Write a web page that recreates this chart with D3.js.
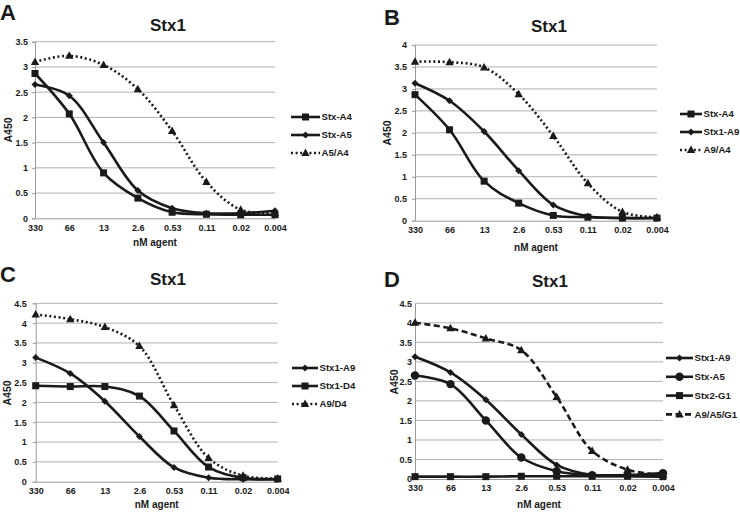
<!DOCTYPE html>
<html><head><meta charset="utf-8">
<script src="https://cdn.jsdelivr.net/npm/d3@7"></script>
<style>
body{margin:0;background:#fff;}
text{font-family:"Liberation Sans",Arial,sans-serif;font-weight:bold;fill:#1a1a1a;}
</style></head>
<body><svg id="c" width="740" height="512"></svg>
<script>
// ---- data ----
const categories = ["330","66","13","2.6","0.53","0.11","0.02","0.004"];

const aNames = ["Stx-A4","Stx-A5","A5/A4"];
const aStxA4 = [2.87,2.07,0.90,0.40,0.12,0.08,0.07,0.07];
const aStxA5 = [2.65,2.43,1.50,0.55,0.20,0.10,0.10,0.15];
const aA5A4  = [3.10,3.22,3.04,2.56,1.73,0.72,0.17,0.10];
const aTicks = [0,0.5,1,1.5,2,2.5,3,3.5];

const bNames = ["Stx-A4","Stx1-A9","A9/A4"];
const bStxA4  = [2.87,2.07,0.90,0.40,0.12,0.08,0.06,0.06];
const bStx1A9 = [3.13,2.73,2.03,1.14,0.36,0.10,0.06,0.06];
const bA9A4   = [3.62,3.61,3.49,2.88,1.93,0.85,0.20,0.08];
const bTicks = [0,0.5,1,1.5,2,2.5,3,3.5,4];

const cNames = ["Stx1-A9","Stx1-D4","A9/D4"];
const cStx1A9 = [3.13,2.73,2.03,1.14,0.36,0.10,0.06,0.06];
const cStx1D4 = [2.42,2.40,2.40,2.16,1.28,0.37,0.10,0.07];
const cA9D4   = [4.22,4.10,3.90,3.42,1.93,0.60,0.15,0.08];
const cTicks = [0,0.5,1,1.5,2,2.5,3,3.5,4,4.5];

const dNames = ["Stx1-A9","Stx-A5","Stx2-G1","A9/A5/G1"];
const dStx1A9 = [3.13,2.73,2.03,1.14,0.36,0.10,0.08,0.08];
const dStxA5  = [2.65,2.43,1.50,0.55,0.20,0.10,0.10,0.15];
const dStx2G1 = [0.06,0.06,0.06,0.07,0.07,0.07,0.07,0.06];
const dA9A5G1 = [4.00,3.86,3.60,3.30,2.10,0.72,0.24,0.10];
const dTicks = [0,0.5,1,1.5,2,2.5,3,3.5,4,4.5];

// ---- layout ----
const panels = [
  {letter:"A", lx:0, ly:20, x0:35, x1:275, y0:218.3, ytop:41.7, ymax:3.5, ticks:aTicks, tsz:3, tpad:4,
   tx:168, ty:31, ylx:8.5, yly:130, xly:246, legX:291, legLen:29, legY:117, legDy:18,
   series:[{name:aNames[0],v:aStxA4,m:"square",s:"solid"},{name:aNames[1],v:aStxA5,m:"diamond",s:"solid"},{name:aNames[2],v:aA5A4,m:"triangle",s:"dot"}]},
  {letter:"B", lx:384, ly:25, x0:415, x1:657, y0:220.7, ytop:45, ymax:4, ticks:bTicks, tsz:3, tpad:5,
   tx:549, ty:32, ylx:387, yly:133, xly:251, legX:680, legLen:22, legY:114, legDy:18,
   series:[{name:bNames[0],v:bStxA4,m:"square",s:"solid"},{name:bNames[1],v:bStx1A9,m:"diamond",s:"solid"},{name:bNames[2],v:bA9A4,m:"triangle",s:"dot"}]},
  {letter:"C", lx:0, ly:282, x0:35.7, x1:277.7, y0:481.7, ytop:303.3, ymax:4.5, ticks:cTicks, tsz:3, tpad:6,
   tx:168, ty:285, ylx:7.5, yly:393, xly:508, legX:292, legLen:26, legY:368, legDy:18,
   series:[{name:cNames[0],v:cStx1A9,m:"diamond",s:"solid"},{name:cNames[1],v:cStx1D4,m:"square",s:"solid"},{name:cNames[2],v:cA9D4,m:"triangle",s:"dot"}]},
  {letter:"D", lx:384, ly:287, x0:415, x1:663, y0:479, ytop:303.3, ymax:4.5, ticks:dTicks, tsz:0, tpad:3,
   tx:550, ty:287, ylx:394, yly:382, xly:508, legX:666, legLen:27, legY:358, legDy:18.8,
   series:[{name:dNames[0],v:dStx1A9,m:"diamond",s:"solid"},{name:dNames[1],v:dStxA5,m:"circle",s:"solid"},{name:dNames[2],v:dStx2G1,m:"square",s:"solid"},{name:dNames[3],v:dA9A5G1,m:"triangle",s:"dash"}]}
];

const svg = d3.select("#c");
const ink = "#1a1a1a";

function marker(g, type, x, y){
  if(type==="square") g.append("rect").attr("x",x-3.5).attr("y",y-3.5).attr("width",7).attr("height",7).attr("fill",ink);
  else if(type==="diamond") g.append("path").attr("d",`M${x},${y-3.5}L${x+3.5},${y}L${x},${y+3.5}L${x-3.5},${y}Z`).attr("fill",ink);
  else if(type==="triangle") g.append("path").attr("d",`M${x},${y-4.5}L${x+4.2},${y+3}L${x-4.2},${y+3}Z`).attr("fill",ink);
  else if(type==="circle") g.append("circle").attr("cx",x).attr("cy",y).attr("r",4.2).attr("fill",ink);
}
function dashOf(s){ return s==="dot" ? "2,2.6" : s==="dash" ? "6,3.5" : null; }

panels.forEach(p=>{
  const g = svg.append("g");
  const x = d3.scalePoint().domain(categories).range([p.x0,p.x1]);
  const y = d3.scaleLinear().domain([0,p.ymax]).range([p.y0,p.ytop]);
  // gridlines
  g.append("g").selectAll("line").data(p.ticks.filter(t=>t>0)).join("line")
    .attr("x1",p.x0).attr("x2",p.x1).attr("y1",d=>y(d)).attr("y2",d=>y(d))
    .attr("stroke","#b0b0b0").attr("stroke-width",1);
  // y axis
  const ya = g.append("g").attr("transform",`translate(${p.x0},0)`)
    .call(d3.axisLeft(y).tickValues(p.ticks).tickSize(p.tsz).tickPadding(p.tpad).tickFormat(d3.format("")));
  ya.select(".domain").attr("stroke","#999").attr("stroke-width",1);
  ya.selectAll(".tick line").attr("stroke","#999");
  ya.selectAll("text").style("font-size","9px").attr("fill",ink).style("font-family","Liberation Sans, Arial").style("font-weight","bold");
  // x axis
  const xa = g.append("g").attr("transform",`translate(0,${p.y0})`)
    .call(d3.axisBottom(x).tickSize(0).tickPadding(6));
  xa.select(".domain").attr("stroke","#999").attr("stroke-width",1);
  xa.selectAll("text").style("font-size","9px").attr("fill",ink).style("font-family","Liberation Sans, Arial").style("font-weight","bold");
  // series
  const line = d3.line().x((d,i)=>x(categories[i])).y(d=>y(d)).curve(d3.curveCatmullRom.alpha(0.5));
  p.series.forEach(s=>{
    g.append("path").attr("d",line(s.v)).attr("fill","none").attr("stroke",ink)
      .attr("stroke-width",2.6).attr("stroke-dasharray",dashOf(s.s)).attr("stroke-linejoin","round");
    s.v.forEach((v,i)=>marker(g,s.m,x(categories[i]),y(v)));
  });
  // legend
  p.series.forEach((s,i)=>{
    const ly = p.legY + i*p.legDy;
    g.append("line").attr("x1",p.legX).attr("x2",p.legX+p.legLen).attr("y1",ly).attr("y2",ly)
      .attr("stroke",ink).attr("stroke-width",2.6).attr("stroke-dasharray",dashOf(s.s));
    marker(g,s.m,p.legX+p.legLen/2,ly);
    g.append("text").attr("x",p.legX+p.legLen+1.5).attr("y",ly).attr("dy","0.35em").style("font-size","9.6px").text(s.name);
  });
  // titles
  g.append("text").attr("x",p.tx).attr("y",p.ty).attr("text-anchor","middle").style("font-size","17px").text("Stx1");
  g.append("text").attr("x",p.lx).attr("y",p.ly).style("font-size","22px").text(p.letter);
  g.append("text").attr("transform",`translate(${p.ylx},${p.yly}) rotate(-90)`).attr("text-anchor","middle").attr("dy","0.35em").style("font-size","10.5px").text("A450");
  g.append("text").attr("x",(p.x0+p.x1)/2).attr("y",p.xly).attr("text-anchor","middle").style("font-size","10px").text("nM agent");
});
</script></body></html>
